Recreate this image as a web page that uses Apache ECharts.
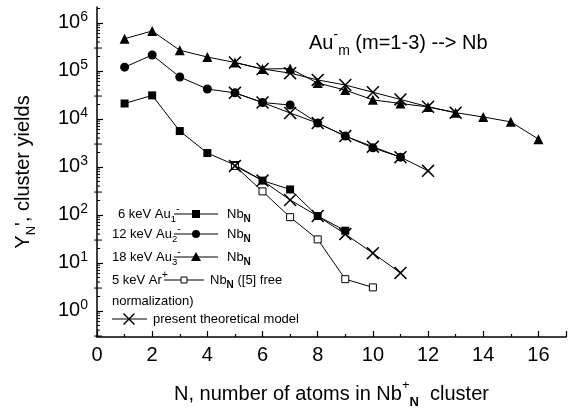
<!DOCTYPE html>
<html>
<head>
<meta charset="utf-8">
<script src="https://cdn.jsdelivr.net/npm/echarts@6/dist/echarts.min.js"></script>
<style>
  html, body { margin: 0; padding: 0; background: #fff; }
  #chart { width: 570px; height: 414px; }
</style>
</head>
<body>
<div id="chart"></div>
<script>
// Cluster yields Y_N of Nb_N+ sputtered by Au_m- (m = 1-3) and Ar+ projectiles
const nAu1 = [1, 2, 3, 4, 5, 6, 7, 8, 9];
const yAu1 = [21000, 31000, 5600, 1950, 1100, 520, 340, 95, 47];

const nAu2 = [1, 2, 3, 4, 5, 6, 7, 8, 9, 10, 11];
const yAu2 = [120000, 215000, 75000, 42000, 35000, 22000, 19500, 8200, 4400, 2500, 1600];

const nAu3 = [1, 2, 3, 4, 5, 6, 7, 8, 9, 10, 11, 12, 13, 14, 15, 16];
const yAu3 = [470000, 680000, 270000, 195000, 150000, 110000, 112000, 56000, 40000, 25000, 21000, 17800, 13500, 11000, 8700, 3800];

const nAr = [5, 6, 7, 8, 9, 10];
const yAr = [1050, 310, 90, 31, 4.6, 3.1];

// present theoretical model, one curve per projectile
const nTh1 = [5, 6, 7, 8, 9, 10, 11];
const yTh1 = [1050, 520, 205, 95, 40, 16, 6.2];
const nTh2 = [5, 6, 7, 8, 9, 10, 11, 12];
const yTh2 = [35000, 22000, 13300, 8200, 4400, 2650, 1600, 830];
const nTh3 = [5, 6, 7, 8, 9, 10, 11, 12, 13];
const yTh3 = [150000, 110000, 90000, 65000, 51000, 36000, 25500, 18000, 13500];

const xTicks = [0, 2, 4, 6, 8, 10, 12, 14, 16];
const yDecades = [0, 1, 2, 3, 4, 5, 6];

const FONT = 'Liberation Sans, Arial, sans-serif';
const pairs = (xs, ys) => xs.map((x, i) => [x, ys[i]]);
const crossPath = 'path://M0,1L1,0L6,5L11,0L12,1L7,6L12,11L11,12L6,7L1,12L0,11L5,6Z';
const crossPts = [[0,1],[1,0],[6,5],[11,0],[12,1],[7,6],[12,11],[11,12],[6,7],[1,12],[0,11],[5,6]];

const chart = echarts.init(document.getElementById('chart'), null, { renderer: 'canvas' });

function dataSeries(name, xs, ys, symbol, size, hollow) {
  return {
    name, type: 'line', data: pairs(xs, ys),
    symbol, symbolSize: size, symbolKeepAspect: true,
    lineStyle: { color: '#000', width: 1 },
    itemStyle: hollow
      ? { color: '#fff', borderColor: '#000', borderWidth: 1 }
      : { color: '#000', borderWidth: 0 },
    z: hollow ? 3 : 2,
    animation: false
  };
}
function theorySeries(xs, ys) {
  return {
    type: 'line', data: pairs(xs, ys),
    symbol: crossPath, symbolSize: 13, symbolKeepAspect: true,
    lineStyle: { color: '#000', width: 1 },
    itemStyle: { color: '#000', borderWidth: 0 },
    z: 4, animation: false
  };
}

// minor log ticks on the value axis (2..9 per decade)
const minorTicks = {
  type: 'custom', data: [[0, 1]], silent: true, clip: false, z: 5,
  renderItem: function (params, api) {
    const children = [];
    for (const d of [-1].concat(yDecades)) {
      for (let m = 2; m <= 9; m++) {
        const v = m * Math.pow(10, d);
        if (v < 0.287 || v > 2.15e6) continue;
        const p = api.coord([0, v]);
        const long = (m === 3);
        children.push({
          type: 'line',
          shape: { x1: p[0] - (long ? 3 : 0), y1: p[1], x2: p[0] + (long ? 5 : 3), y2: p[1] },
          style: { stroke: '#000', lineWidth: 1 }
        });
      }
    }
    return { type: 'group', children };
  }
};

// legend block drawn inside the plot
const lg = [];
const legendRich = {
  t: { fontSize: 13, fontFamily: FONT, lineHeight: 20, verticalAlign: 'middle' },
  sb: { fontSize: 9.5, fontFamily: FONT, lineHeight: 20, verticalAlign: 'bottom' },
  sp: { fontSize: 10.5, fontFamily: FONT, lineHeight: 20, verticalAlign: 'top' },
  nb: { fontSize: 10, fontFamily: FONT, fontWeight: 'bold', lineHeight: 20, verticalAlign: 'bottom' }
};
function txt(x, y, rich) {
  lg.push({
    type: 'text', x: x, y: y - 10,
    style: { text: rich, fill: '#000', rich: legendRich }
  });
}
function seg(x1, x2, y) {
  lg.push({ type: 'line', shape: { x1, y1: y, x2, y2: y }, style: { stroke: '#000', lineWidth: 1 } });
}
txt(118, 214, '{t|6 keV Au}{sb|1}{sp|-}');
seg(174, 218, 214);
lg.push({ type: 'rect', shape: { x: 192, y: 210, width: 8, height: 8 }, style: { fill: '#000' } });
txt(227, 214, '{t|Nb}{nb|N}');

txt(112, 234, '{t|12 keV Au}{sb|2}{sp|-}');
seg(174, 218, 234);
lg.push({ type: 'circle', shape: { cx: 196, cy: 234, r: 4 }, style: { fill: '#000' } });
txt(227, 234, '{t|Nb}{nb|N}');

txt(112, 257, '{t|18 keV Au}{sb|3}{sp|-}');
seg(174, 218, 257);
lg.push({ type: 'polygon', shape: { points: [[196, 252], [201, 261], [191, 261]] }, style: { fill: '#000' } });
txt(227, 257, '{t|Nb}{nb|N}');

txt(112, 280, '{t|5 keV Ar}{sp|+}');
seg(164, 204, 280);
lg.push({ type: 'rect', shape: { x: 181, y: 277, width: 6, height: 6 }, style: { fill: '#fff', stroke: '#000', lineWidth: 1 } });
txt(210, 280, '{t|Nb}{nb|N}{t| ([5] free}');

txt(112, 301, '{t|normalization)}');

seg(112, 147, 319);
lg.push({
  type: 'polygon',
  shape: { points: crossPts.map(p => [p[0] + 123, p[1] + 313]) },
  style: { fill: '#000' }
});
txt(153, 319, '{t|present theoretical model}');

// panel label
lg.push({
  type: 'text', x: 309, y: 28,
  style: {
    text: '{a|Au}{p|-}{m|m}{a| (m=1-3) --> Nb}',
    fill: '#000',
    rich: {
      a: { fontSize: 20, fontFamily: FONT, lineHeight: 30, verticalAlign: 'middle' },
      p: { fontSize: 14, fontFamily: FONT, lineHeight: 30, verticalAlign: 'top' },
      m: { fontSize: 14, fontFamily: FONT, lineHeight: 30, verticalAlign: 'bottom' }
    }
  }
});

const option = {
  backgroundColor: '#fff',
  animation: false,
  grid: { left: 97, right: 4, top: 7, bottom: 77, containLabel: false },
  xAxis: {
    type: 'value', min: 0, max: 17, interval: 2,
    name: '{a|N, number of atoms in Nb}{p|+}{n|N}{a|  cluster}',
    nameLocation: 'middle', nameGap: 42,
    nameTextStyle: {
      rich: {
        a: { fontSize: 20, fontFamily: FONT, color: '#000', lineHeight: 30, verticalAlign: 'middle' },
        p: { fontSize: 13, fontFamily: FONT, color: '#000', lineHeight: 30, verticalAlign: 'top' },
        n: { fontSize: 13, fontFamily: FONT, fontWeight: 'bold', color: '#000', lineHeight: 30, verticalAlign: 'bottom' }
      }
    },
    axisLine: { lineStyle: { color: '#000', width: 1.5 } },
    axisTick: { inside: true, length: 6, lineStyle: { color: '#000', width: 1.2 } },
    minorTick: { show: true, splitNumber: 2, length: 3, lineStyle: { color: '#000', width: 1.2 } },
    splitLine: { show: false },
    axisLabel: {
      color: '#000', fontSize: 20, fontFamily: FONT, margin: 8, showMaxLabel: false,
      formatter: v => (xTicks.includes(v) ? String(v) : '')
    }
  },
  yAxis: {
    type: 'log', logBase: 10, min: 0.287, max: 2.15e6,
    name: "{a|Y}{n|N}{a|', cluster yields}",
    nameLocation: 'middle', nameGap: 59, nameRotate: 90,
    nameTextStyle: {
      rich: {
        a: { fontSize: 20, fontFamily: FONT, color: '#000', lineHeight: 30, verticalAlign: 'middle' },
        n: { fontSize: 13, fontFamily: FONT, color: '#000', lineHeight: 30, verticalAlign: 'bottom' }
      }
    },
    axisLine: { show: true, lineStyle: { color: '#000', width: 1.5 } },
    axisTick: { inside: true, length: 6, lineStyle: { color: '#000', width: 1.2 } },
    splitLine: { show: false },
    axisLabel: {
      color: '#000', margin: 9, showMinLabel: false, showMaxLabel: false,
      formatter: function (v) {
        const e = Math.round(Math.log10(v));
        if (!yDecades.includes(e) || Math.abs(Math.log10(v) - e) > 1e-6) return '';
        return '{b|10}{s|' + e + '}';
      },
      rich: {
        b: { fontSize: 20, fontFamily: FONT, color: '#000', lineHeight: 26, verticalAlign: 'middle' },
        s: { fontSize: 14, fontFamily: FONT, color: '#000', lineHeight: 26, verticalAlign: 'top' }
      }
    }
  },
  series: [
    dataSeries('6 keV Au1-', nAu1, yAu1, 'rect', 8, false),
    dataSeries('12 keV Au2-', nAu2, yAu2, 'circle', 9, false),
    dataSeries('18 keV Au3-', nAu3, yAu3, 'triangle', 10, false),
    dataSeries('5 keV Ar+', nAr, yAr, 'rect', 7, true),
    theorySeries(nTh1, yTh1),
    theorySeries(nTh2, yTh2),
    theorySeries(nTh3, yTh3),
    minorTicks
  ],
  graphic: lg
};

chart.setOption(option);
</script>
</body>
</html>
